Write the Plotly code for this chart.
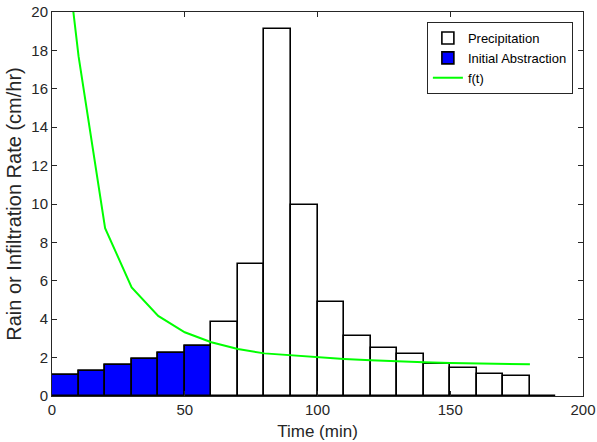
import plotly.graph_objects as go

# Data
bar_centers = [5, 15, 25, 35, 45, 55, 65, 75, 85, 95, 105, 115, 125, 135, 145, 155, 165, 175, 185]
precip = [1.09, 1.32, 1.60, 1.95, 2.26, 2.61, 3.87, 6.86, 19.09, 9.94, 4.88, 3.14, 2.52, 2.19, 1.65, 1.46, 1.16, 1.03, 0.0]
abstr_centers = [5, 15, 25, 35, 45, 55]
abstraction = [1.09, 1.32, 1.60, 1.95, 2.26, 2.61]
t_f = [0, 10, 20, 30, 40, 50, 60, 70, 80, 90, 100, 110, 120, 130, 140, 150, 160, 170, 180]
f_t = [29.5, 17.7, 8.74, 5.66, 4.17, 3.32, 2.80, 2.45, 2.22, 2.12, 2.00, 1.93, 1.86, 1.80, 1.76, 1.72, 1.69, 1.67, 1.65]

fig = go.Figure()
fig.add_trace(go.Bar(x=bar_centers, y=precip, width=10, name="Precipitation",
                     marker=dict(color="white", line=dict(color="black", width=1.6))))
fig.add_trace(go.Bar(x=abstr_centers, y=abstraction, width=10, name="Initial Abstraction",
                     marker=dict(color="#0000ff", line=dict(color="black", width=1.6))))
fig.add_trace(go.Scatter(x=t_f, y=f_t, mode="lines", name="f(t)",
                         line=dict(color="#00ff00", width=2)))

axis_common = dict(showline=True, mirror="ticks", linecolor="#262626", linewidth=1,
                   ticks="inside", ticklen=5, tickcolor="#262626", showgrid=False,
                   zeroline=False, automargin=False,
                   tickfont=dict(size=15, color="#262626"))
fig.update_layout(
    width=597, height=442,
    margin=dict(l=52, r=14, t=12, b=46),
    barmode="overlay", bargap=0,
    plot_bgcolor="white", paper_bgcolor="white",
    font=dict(family="Liberation Sans, Arial, sans-serif", color="#262626"),
    xaxis=dict(range=[0, 200], tickvals=[0, 50, 100, 150, 200],
               title=dict(text="Time (min)", font=dict(size=17), standoff=8), **axis_common),
    yaxis=dict(range=[0, 20], tickvals=list(range(0, 21, 2)),
               title=dict(text="Rain or Infiltration Rate (cm/hr)", font=dict(size=20), standoff=4), **axis_common),
    legend=dict(x=0.706, y=0.974, xanchor="left", yanchor="top",
                bgcolor="white", bordercolor="#262626", borderwidth=1,
                font=dict(size=13, color="black"), itemwidth=30, tracegroupgap=0),
    showlegend=True,
)
# remove the page's default 8px body margin so the figure fills the window
fig.write_html("out.html", config={"displayModeBar": False},
               post_script="document.body.style.margin='0px';")
